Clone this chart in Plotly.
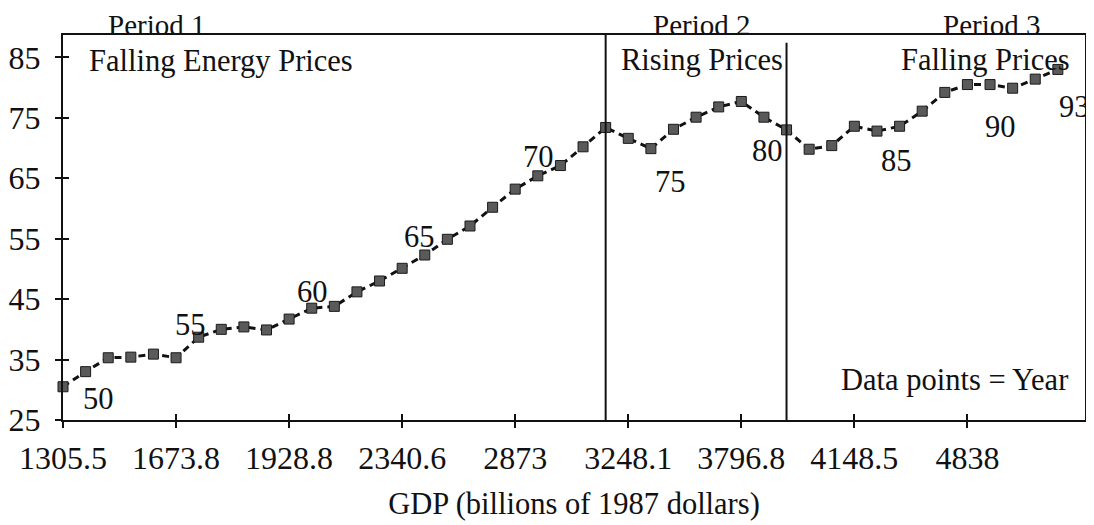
import plotly.graph_objects as go

# ---- data ----
years = list(range(1949, 1994))
energy = [30.5, 33.0, 35.3, 35.4, 35.9, 35.3, 38.7, 40.0, 40.4, 39.9,
          41.7, 43.5, 43.8, 46.2, 48.0, 50.1, 52.3, 54.9, 57.1, 60.2,
          63.2, 65.4, 67.1, 70.2, 73.4, 71.6, 69.9, 73.1, 75.1, 76.8,
          77.7, 75.1, 73.0, 69.8, 70.4, 73.6, 72.8, 73.6, 76.1, 79.2,
          80.5, 80.5, 79.9, 81.4, 83.0]
tick_years = [1949, 1954, 1959, 1964, 1969, 1974, 1979, 1984, 1989]
gdp_labels = ["1305.5", "1673.8", "1928.8", "2340.6", "2873",
              "3248.1", "3796.8", "4148.5", "4838"]
label_years = [1950, 1955, 1960, 1965, 1970, 1975, 1980, 1985, 1990, 1993]
period_bounds = [1973, 1981]
y_ticks = [25, 35, 45, 55, 65, 75, 85]

# ---- styling ----
FONT = "Liberation Serif"
INK = "#111111"
FS = 30.5
TFS = 32
label_offsets = {1950: (13, -27), 1955: (-8, 12), 1960: (1, 16), 1965: (-5, 18),
                 1970: (1, 19), 1975: (20, -33), 1980: (4, -34), 1985: (20, -30),
                 1990: (10, -42), 1993: (17, -38)}

XR = [1949, 1994.2]
YR = [25, 88.7]

fig = go.Figure()
fig.add_trace(go.Scatter(
    x=years, y=energy, mode="lines+markers",
    line=dict(color="#111111", width=3, dash="7px,5px"),
    marker=dict(symbol="square", size=10, color="#5a5a5a",
                line=dict(color="#1a1a1a", width=1)),
    cliponaxis=False, showlegend=False, hoverinfo="skip"))
# invisible trace for the overlay axes (crossing ticks)
fig.add_trace(go.Scatter(x=[years[0]], y=[energy[0]], xaxis="x2", yaxis="y2",
                         mode="markers", marker=dict(opacity=0),
                         showlegend=False, hoverinfo="skip"))

for yr in label_years:
    dx, dy = label_offsets[yr]
    fig.add_annotation(x=yr, y=energy[years.index(yr)], text=str(yr % 100),
                       showarrow=False, xshift=dx, yshift=dy,
                       font=dict(family=FONT, size=FS, color=INK))

for b in period_bounds:
    fig.add_shape(type="line", xref="x", yref="paper", x0=b, x1=b,
                  y0=0, y1=1 if b == period_bounds[0] else 0.98,
                  line=dict(color=INK, width=2))

texts = [
    ("Period 1", 0.091, 1.026, "center", 29),
    ("Falling Energy Prices", 0.0235, 0.932, "left", FS),
    ("Period 2", 0.625, 1.026, "center", 29),
    ("Rising Prices", 0.544, 0.935, "left", FS),
    ("Period 3", 0.909, 1.026, "center", 29),
    ("Falling Prices", 0.987, 0.935, "right", FS),
    ("Data points = Year", 0.985, 0.104, "right", FS),
]
for t, x, y, xa, fs in texts:
    fig.add_annotation(xref="paper", yref="paper", x=x, y=y, text=t,
                       showarrow=False, xanchor=xa, yanchor="middle",
                       font=dict(family=FONT, size=fs, color=INK))

axis_common = dict(showgrid=False, zeroline=False, showline=True,
                   linecolor=INK, linewidth=2, tickcolor=INK, ticklen=6,
                   tickwidth=2, automargin=False)
# page body has an 8px margin, so the figure is 8px smaller and shifted
fig.update_layout(
    width=1086, height=517,
    margin=dict(l=55, r=9, t=27, b=105),
    paper_bgcolor="white", plot_bgcolor="white",
    font=dict(family=FONT, size=TFS, color=INK),
    xaxis=dict(range=XR, tickmode="array", tickvals=tick_years,
               ticktext=gdp_labels, ticks="outside", mirror=True,
               ticklabelstandoff=3,
               title=dict(text="GDP (billions of 1987 dollars)", standoff=17,
                          font=dict(family=FONT, size=FS, color=INK)),
               **axis_common),
    yaxis=dict(range=YR, tickmode="array", tickvals=y_ticks,
               ticks="outside", mirror=True, ticklabelstandoff=8,
               **axis_common),
    xaxis2=dict(range=XR, overlaying="x", anchor="y2", side="bottom",
                tickmode="array", tickvals=tick_years, ticks="inside",
                showticklabels=False, **axis_common),
    yaxis2=dict(range=YR, overlaying="y", anchor="x2", side="left",
                tickmode="array", tickvals=y_ticks, ticks="inside",
                showticklabels=False, **axis_common),
)

fig.write_html("out.html")
